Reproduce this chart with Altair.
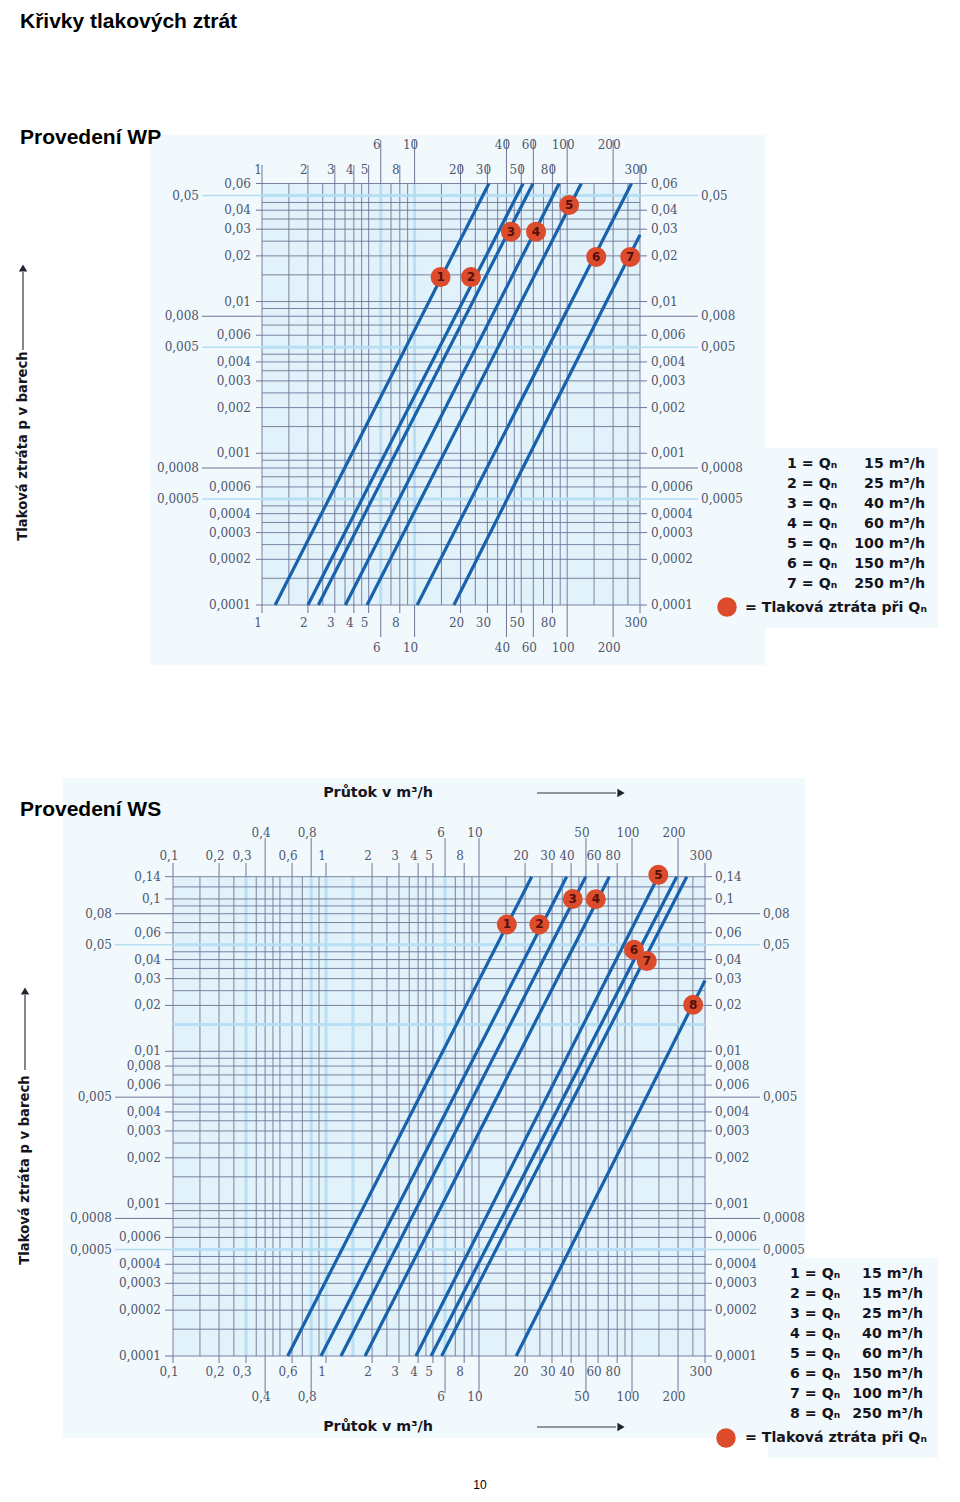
import altair as alt
import pandas as pd

# ------------------------------------------------------------------ data
# Provedení WP  (straight lines on log-log paper: start at p = 0.0001, end at the frame)
wp_line_no = [1, 2, 3, 4, 5, 6, 7]
wp_q_start = [1.22, 2.00, 2.34, 3.52, 4.88, 10.4, 18.1]
wp_p_start = [0.0001, 0.0001, 0.0001, 0.0001, 0.0001, 0.0001, 0.0001]
wp_q_end = [30.7, 51.4, 59.7, 88.6, 123.7, 263.8, 300.0]
wp_p_end = [0.06, 0.06, 0.06, 0.06, 0.06, 0.06, 0.0275]
wp_marker_q = [14.8, 23.4, 42.8, 62.5, 103.0, 155.0, 259.0]
wp_marker_p = [0.0145, 0.0145, 0.0289, 0.0289, 0.0433, 0.0197, 0.0197]
wp_legend_q = ["15", "25", "40", "60", "100", "150", "250"]

# Provedení WS
ws_line_no = [1, 2, 3, 4, 5, 6, 7, 8]
ws_q_start = [0.562, 0.927, 1.253, 1.80, 3.87, 4.86, 5.70, 17.5]
ws_p_start = [0.0001, 0.0001, 0.0001, 0.0001, 0.0001, 0.0001, 0.0001, 0.0001]
ws_q_end = [22.1, 37.4, 49.8, 71.1, 148.0, 196.0, 228.0, 300.0]
ws_p_end = [0.14, 0.14, 0.14, 0.14, 0.14, 0.14, 0.14, 0.0292]
ws_marker_q = [15.2, 24.8, 41.0, 58.0, 148.6, 103.0, 125.0, 251.0]
ws_marker_p = [0.068, 0.068, 0.100, 0.0995, 0.144, 0.0464, 0.0391, 0.0202]
ws_legend_q = ["15", "15", "25", "40", "60", "150", "100", "250"]

# tick labels (two staggered rows on x, inner/outer columns on y)
wp_x_row1 = [1, 2, 3, 4, 5, 8, 20, 30, 50, 80, 300]
wp_x_row2 = [6, 10, 40, 60, 100, 200]
wp_y_inner = [0.06, 0.04, 0.03, 0.02, 0.01, 0.006, 0.004, 0.003, 0.002, 0.001,
              0.0006, 0.0004, 0.0003, 0.0002, 0.0001]
wp_y_outer = [0.05, 0.008, 0.005, 0.0008, 0.0005]

ws_x_row1 = [0.1, 0.2, 0.3, 0.6, 1, 2, 3, 4, 5, 8, 20, 30, 40, 60, 80, 300]
ws_x_row2 = [0.4, 0.8, 6, 10, 50, 100, 200]
ws_y_inner = [0.14, 0.1, 0.06, 0.04, 0.03, 0.02, 0.01, 0.008, 0.006, 0.004, 0.003,
              0.002, 0.001, 0.0006, 0.0004, 0.0003, 0.0002, 0.0001]
ws_y_outer = [0.08, 0.05, 0.005, 0.0008, 0.0005]

# grid of the log paper
grid_mantissa = [1, 1.5, 2, 2.5, 3, 3.5, 4, 4.5, 5, 6, 7, 8, 9]
wp_x_decades = [1, 10, 100]
wp_y_decades = [0.0001, 0.001, 0.01]
ws_x_decades = [0.1, 1, 10, 100]
ws_y_decades = [0.0001, 0.001, 0.01, 0.1]
ws_y_extra = [0.12, 0.14]
wp_x_light = [6, 10]
wp_y_light = [0.05, 0.005, 0.0005]
ws_x_light = [0.3, 0.8, 1, 1.5, 6]
ws_y_light = [0.05, 0.015, 0.0005]

# ------------------------------------------------------------------ style
FONT_LBL = "DejaVu Serif"
FONT_TXT = "DejaVu Sans"
FONT_TITLE = "Liberation Sans"
LBL_C = "#4f566e"
GRID_C = "#6f7598"
LIGHT_C = "#b4ddf2"
LINE_C = "#1762ad"
MARK_C = "#dc4b2c"
NUM_C = "#54100a"
BG = "#e1f2fa"
TINT = "#f1f9fd"
TXT_C = "#151520"

W, H = 944, 1486
one = pd.DataFrame({"k": [0]})


def fmt(v):
    return f"{v:g}".replace(".", ",")


def is_in(v, vals):
    return any(abs(v - u) <= abs(u) * 1e-6 for u in vals)


def grid_values(decades, top, extra=()):
    vals = [round(m * d, 10) for d in decades for m in grid_mantissa if m * d <= top * 1.0001]
    return vals + list(extra)


class Panel:
    def __init__(self, xdom, xrng, ydom, yrng):
        self.xdom, self.ydom = xdom, ydom
        self.left, self.right = xrng
        self.bottom, self.top = yrng
        self.xs = alt.Scale(type="log", domain=xdom, range=xrng, nice=False)
        self.ys = alt.Scale(type="log", domain=ydom, range=yrng, nice=False)

    def X(self, f):
        return alt.X(f, type="quantitative", scale=self.xs, axis=None)

    def Y(self, f):
        return alt.Y(f, type="quantitative", scale=self.ys, axis=None)


def text_layer(text, x, y, size, weight="normal", align="left", baseline="middle",
               angle=0, font=FONT_TXT, color=TXT_C, line_height=0):
    props = dict(text=text, align=align, baseline=baseline, fontSize=size,
                 fontWeight=weight, font=font, color=color)
    if angle:
        props["angle"] = angle
    if line_height:
        props["lineHeight"] = line_height
    return alt.Chart(one).mark_text(**props).encode(x=alt.value(x), y=alt.value(y))


def tint(x1, x2, y1, y2):
    return alt.Chart(one).mark_rect(color=TINT).encode(
        x=alt.value(x1), x2=alt.value(x2), y=alt.value(y1), y2=alt.value(y2))


def vrule(x, y1, y2):
    return alt.Chart(one).mark_rule(color="#333340", strokeWidth=1.2).encode(
        x=alt.value(x), y=alt.value(y1), y2=alt.value(y2))


def hrule(x1, x2, y):
    return alt.Chart(one).mark_rule(color="#333340", strokeWidth=1.2).encode(
        x=alt.value(x1), x2=alt.value(x2), y=alt.value(y))


def head(x, y, shape):
    return alt.Chart(one).mark_point(shape=shape, filled=True, color="#222230",
                                     size=70, opacity=1).encode(x=alt.value(x), y=alt.value(y))


def legend_dot(x, y):
    return alt.Chart(one).mark_circle(color=MARK_C, size=380, opacity=1).encode(
        x=alt.value(x), y=alt.value(y))


def panel_layers(P, xgrid, ygrid, xlight, ylight, xr1, xr2, yin, yout, geo,
                 line_no, q0, p0, q1, p1, mq, mp):
    (qmin, qmax), (pmin, pmax) = P.xdom, P.ydom
    L = []
    # plot background
    L.append(alt.Chart(pd.DataFrame({"q0": [qmin], "q1": [qmax], "p0": [pmin], "p1": [pmax]}))
             .mark_rect(color=BG).encode(x=P.X("q0"), x2="q1", y=P.Y("p0"), y2="p1"))
    # grid
    xl = [v for v in xgrid if is_in(v, xlight)]
    xd = [v for v in xgrid if not is_in(v, xlight)]
    yl = [v for v in ygrid if is_in(v, ylight)]
    yd = [v for v in ygrid if not is_in(v, ylight)]
    for vals, col, wdt in ((xl, LIGHT_C, 3), (xd, GRID_C, 1)):
        df = pd.DataFrame({"q": vals, "lo": pmin, "hi": pmax})
        L.append(alt.Chart(df).mark_rule(color=col, strokeWidth=wdt, opacity=0.9)
                 .encode(x=P.X("q"), y=P.Y("lo"), y2="hi"))
    for vals, col, wdt in ((yl, LIGHT_C, 3), (yd, GRID_C, 1)):
        df = pd.DataFrame({"p": vals, "lo": qmin, "hi": qmax})
        L.append(alt.Chart(df).mark_rule(color=col, strokeWidth=wdt, opacity=0.9)
                 .encode(y=P.Y("p"), x=P.X("lo"), x2="hi"))
    # x tick extensions + labels (top and bottom, two rows)
    for vals, key in ((xr1, "1"), (xr2, "2")):
        df = pd.DataFrame({"q": vals, "lab": [fmt(v) for v in vals]})
        for side, edge in (("t", P.top), ("b", P.bottom)):
            tick_end, lab_y = geo[side + key]
            L.append(alt.Chart(df).mark_rule(color=GRID_C, strokeWidth=1)
                     .encode(x=P.X("q"), y=alt.value(edge), y2=alt.value(tick_end)))
            L.append(alt.Chart(df).mark_text(font=FONT_LBL, fontSize=12, color=LBL_C,
                                             align="center", baseline="middle", dx=-4)
                     .encode(x=P.X("q"), y=alt.value(lab_y), text="lab:N"))
    # y tick extensions + labels (left and right, inner and outer)
    for vals, key in ((yin, "1"), (yout, "2")):
        for side, edge, align in (("l", P.left, "right"), ("r", P.right, "left")):
            tick_end, lab_x = geo[side + key]
            for sub, col in (([v for v in vals if is_in(v, ylight)], LIGHT_C),
                             ([v for v in vals if not is_in(v, ylight)], GRID_C)):
                if not sub:
                    continue
                df = pd.DataFrame({"p": sub})
                L.append(alt.Chart(df).mark_rule(color=col, strokeWidth=1.4 if col == LIGHT_C else 1)
                         .encode(y=P.Y("p"), x=alt.value(edge), x2=alt.value(tick_end)))
            df = pd.DataFrame({"p": vals, "lab": [fmt(v) for v in vals]})
            L.append(alt.Chart(df).mark_text(font=FONT_LBL, fontSize=12, color=LBL_C,
                                             align=align, baseline="middle")
                     .encode(y=P.Y("p"), x=alt.value(lab_x), text="lab:N"))
    # pressure-loss lines
    lines_df = pd.DataFrame({"no": line_no, "q0": q0, "p0": p0, "q1": q1, "p1": p1})
    L.append(alt.Chart(lines_df).mark_rule(color=LINE_C, strokeWidth=3.2)
             .encode(x=P.X("q0"), x2="q1", y=P.Y("p0"), y2="p1"))
    # markers at Qn
    mk_df = pd.DataFrame({"no": [str(n) for n in line_no], "q": mq, "p": mp})
    L.append(alt.Chart(mk_df).mark_circle(size=400, color=MARK_C, opacity=1)
             .encode(x=P.X("q"), y=P.Y("p")))
    L.append(alt.Chart(mk_df).mark_text(fontSize=12, fontWeight="bold", color=NUM_C,
                                        font=FONT_TXT, baseline="middle")
             .encode(x=P.X("q"), y=P.Y("p"), text="no:N"))
    return L


# ------------------------------------------------------------------ panel WP
P1 = Panel([1, 300], [254, 632], [0.0001, 0.06], [597, 175.5])
wp_geo = {"t1": (157, 162), "t2": (132, 137), "b1": (605, 615), "b2": (629, 640),
          "l1": (248, 243), "l2": (194, 191), "r1": (639, 643), "r2": (690, 693)}
wp_layers = panel_layers(
    P1, grid_values(wp_x_decades, 300), grid_values(wp_y_decades, 0.06),
    wp_x_light, wp_y_light, wp_x_row1, wp_x_row2, wp_y_inner, wp_y_outer, wp_geo,
    wp_line_no, wp_q_start, wp_p_start, wp_q_end, wp_p_end, wp_marker_q, wp_marker_p)

wp_legend_left = [f"{n} = Q\u2099" for n in wp_line_no]
wp_legend_right = [f"{q} m\u00b3/h" for q in wp_legend_q]
wp_anno = [
    text_layer("Křivky tlakových ztrát", 12, 3, 21, "bold", baseline="top",
               font=FONT_TITLE, color="#000000"),
    text_layer("Provedení WP", 12, 130, 21, "bold", font=FONT_TITLE, color="#000000"),
    text_layer("Tlaková ztráta p v barech", 15, 438, 13.2, "bold", align="center", angle=270),
    vrule(15, 264, 342),
    head(15, 260, "triangle-up"),
    text_layer(wp_legend_left, 779, 449, 14.2, "bold", baseline="top", line_height=20),
    text_layer(wp_legend_right, 917, 449, 14.2, "bold", align="right", baseline="top", line_height=20),
    legend_dot(719, 599),
    text_layer("= Tlaková ztráta při Q\u2099", 737, 600, 14.2, "bold"),
]

# ------------------------------------------------------------------ panel WS
P2 = Panel([0.1, 300], [165, 697], [0.0001, 0.14], [1348, 868.7])
ws_geo = {"t1": (855, 848), "t2": (830, 825), "b1": (1355, 1364), "b2": (1385, 1389),
          "l1": (157, 153), "l2": (107, 104), "r1": (704, 707), "r2": (752, 755)}
ws_layers = panel_layers(
    P2, grid_values(ws_x_decades, 300), grid_values(ws_y_decades, 0.14, ws_y_extra),
    ws_x_light, ws_y_light, ws_x_row1, ws_x_row2, ws_y_inner, ws_y_outer, ws_geo,
    ws_line_no, ws_q_start, ws_p_start, ws_q_end, ws_p_end, ws_marker_q, ws_marker_p)

ws_legend_left = [f"{n} = Q\u2099" for n in ws_line_no]
ws_legend_right = [f"{q} m\u00b3/h" for q in ws_legend_q]
ws_anno = [
    text_layer("Provedení WS", 12, 802, 21, "bold", font=FONT_TITLE, color="#000000"),
    text_layer("Průtok v m\u00b3/h", 370, 785, 14.3, "bold", align="center"),
    hrule(529, 608, 785),
    head(613, 785, "triangle-right"),
    text_layer("Průtok v m\u00b3/h", 370, 1419, 14.3, "bold", align="center"),
    hrule(529, 608, 1419),
    head(613, 1419, "triangle-right"),
    text_layer("Tlaková ztráta p v barech", 17, 1162, 13.2, "bold", align="center", angle=270),
    vrule(17, 987, 1062),
    head(17, 983, "triangle-up"),
    text_layer(ws_legend_left, 782, 1259, 14.2, "bold", baseline="top", line_height=20),
    text_layer(ws_legend_right, 915, 1259, 14.2, "bold", align="right", baseline="top", line_height=20),
    legend_dot(718, 1430),
    text_layer("= Tlaková ztráta při Q\u2099", 737, 1430, 14.2, "bold"),
    text_layer("10", 472, 1477, 12, align="center", font="Liberation Sans", color="#000000"),
]

# faint tinted paper behind both nomograms
tints = [
    tint(142, 757, 127, 657),
    tint(690, 930, 440, 620),
    tint(55, 797, 770, 1430),
    tint(760, 930, 1250, 1450),
]

chart = (
    alt.layer(*tints, *wp_layers, *wp_anno, *ws_layers, *ws_anno)
    .resolve_scale(x="independent", y="independent")
    .properties(width=W, height=H, autosize=alt.AutoSizeParams(type="none"),
                padding=0, background="#ffffff")
    .configure_view(strokeOpacity=0)
)

chart.save("out.html", embed_options={"renderer": "svg", "actions": False})
